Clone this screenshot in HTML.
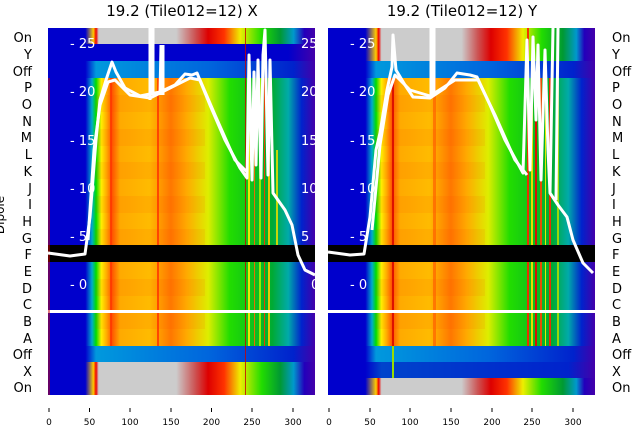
<!DOCTYPE html>
<html><head><meta charset="utf-8"><style>
html,body{margin:0;padding:0;background:#fff;}
svg{display:block;font-family:"DejaVu Sans","Liberation Sans",sans-serif;}
</style></head><body>
<svg width="640" height="440" viewBox="0 0 640 440" xmlns="http://www.w3.org/2000/svg">
<defs>
<linearGradient id="hL" x1="48" x2="315" gradientUnits="userSpaceOnUse">
<stop offset="0" stop-color="#0000cc"/><stop offset="0.14" stop-color="#0000cc"/>
<stop offset="0.165" stop-color="#00aacc"/><stop offset="0.18" stop-color="#00dd00"/>
<stop offset="0.2" stop-color="#ffee00"/><stop offset="0.22" stop-color="#ffaa00"/>
<stop offset="0.24" stop-color="#ff5500"/><stop offset="0.27" stop-color="#ffaa00"/>
<stop offset="0.38" stop-color="#ffbb00"/><stop offset="0.46" stop-color="#ff7700"/>
<stop offset="0.52" stop-color="#ffaa00"/><stop offset="0.6" stop-color="#ddee00"/>
<stop offset="0.68" stop-color="#22dd00"/><stop offset="0.84" stop-color="#00aa33"/>
<stop offset="0.9" stop-color="#00aaaa"/><stop offset="0.95" stop-color="#0022cc"/>
<stop offset="1" stop-color="#4400aa"/></linearGradient>
<linearGradient id="hR" x1="328" x2="595" gradientUnits="userSpaceOnUse">
<stop offset="0" stop-color="#0000cc"/><stop offset="0.14" stop-color="#0000cc"/>
<stop offset="0.165" stop-color="#00aacc"/><stop offset="0.18" stop-color="#00dd00"/>
<stop offset="0.2" stop-color="#ffee00"/><stop offset="0.22" stop-color="#ffaa00"/>
<stop offset="0.24" stop-color="#ff5500"/><stop offset="0.27" stop-color="#ffaa00"/>
<stop offset="0.38" stop-color="#ffbb00"/><stop offset="0.46" stop-color="#ff7700"/>
<stop offset="0.52" stop-color="#ffaa00"/><stop offset="0.6" stop-color="#ddee00"/>
<stop offset="0.68" stop-color="#22dd00"/><stop offset="0.84" stop-color="#00aa33"/>
<stop offset="0.9" stop-color="#00aaaa"/><stop offset="0.95" stop-color="#0022cc"/>
<stop offset="1" stop-color="#4400aa"/></linearGradient>
<linearGradient id="gL" x1="48" x2="315" gradientUnits="userSpaceOnUse">
<stop offset="0" stop-color="#0000cc"/><stop offset="0.14" stop-color="#0000cc"/>
<stop offset="0.17" stop-color="#ffcc00"/><stop offset="0.18" stop-color="#ee0000"/>
<stop offset="0.19" stop-color="#cccccc"/><stop offset="0.48" stop-color="#cccccc"/>
<stop offset="0.55" stop-color="#cc5555"/><stop offset="0.6" stop-color="#dd0000"/>
<stop offset="0.66" stop-color="#ff3300"/><stop offset="0.72" stop-color="#eeee00"/>
<stop offset="0.8" stop-color="#22dd00"/><stop offset="0.87" stop-color="#009933"/>
<stop offset="0.92" stop-color="#0099cc"/><stop offset="0.96" stop-color="#2200bb"/>
<stop offset="1" stop-color="#4400aa"/></linearGradient>
<linearGradient id="gR" x1="328" x2="595" gradientUnits="userSpaceOnUse">
<stop offset="0" stop-color="#0000cc"/><stop offset="0.14" stop-color="#0000cc"/>
<stop offset="0.18" stop-color="#ffcc00"/><stop offset="0.19" stop-color="#ee0000"/>
<stop offset="0.2" stop-color="#cccccc"/><stop offset="0.5" stop-color="#cccccc"/>
<stop offset="0.56" stop-color="#cc5555"/><stop offset="0.61" stop-color="#dd0000"/>
<stop offset="0.67" stop-color="#ff3300"/><stop offset="0.73" stop-color="#eeee00"/>
<stop offset="0.8" stop-color="#22dd00"/><stop offset="0.88" stop-color="#009933"/>
<stop offset="0.93" stop-color="#0099cc"/><stop offset="0.96" stop-color="#2200bb"/>
<stop offset="1" stop-color="#4400aa"/></linearGradient>
<linearGradient id="bL" x1="48" x2="315" gradientUnits="userSpaceOnUse">
<stop offset="0" stop-color="#0000cc"/><stop offset="0.14" stop-color="#0000cc"/>
<stop offset="0.18" stop-color="#0099dd"/><stop offset="0.6" stop-color="#0066dd"/>
<stop offset="0.92" stop-color="#0022cc"/><stop offset="1" stop-color="#4400aa"/></linearGradient>
<linearGradient id="bR" x1="328" x2="595" gradientUnits="userSpaceOnUse">
<stop offset="0" stop-color="#0000cc"/><stop offset="0.14" stop-color="#0000cc"/>
<stop offset="0.18" stop-color="#0099dd"/><stop offset="0.6" stop-color="#0066dd"/>
<stop offset="0.92" stop-color="#0022cc"/><stop offset="1" stop-color="#4400aa"/></linearGradient>
<linearGradient id="dL" x1="48" x2="315" gradientUnits="userSpaceOnUse">
<stop offset="0" stop-color="#0000cc"/><stop offset="0.9" stop-color="#0000cc"/><stop offset="1" stop-color="#4400aa"/></linearGradient>
<linearGradient id="dR" x1="328" x2="595" gradientUnits="userSpaceOnUse">
<stop offset="0" stop-color="#0000cc"/><stop offset="0.14" stop-color="#0000cc"/><stop offset="0.2" stop-color="#0044cc"/><stop offset="0.9" stop-color="#0022cc"/><stop offset="1" stop-color="#4400aa"/></linearGradient>
</defs>

<text x="182" y="16" font-size="15" text-anchor="middle" fill="#000">19.2 (Tile012=12) X</text>
<text x="462" y="16" font-size="15" text-anchor="middle" fill="#000">19.2 (Tile012=12) Y</text>

<!-- LEFT PANEL -->
<rect x="48" y="78" width="267" height="268" fill="url(#hL)"/>
<rect x="48" y="28" width="267" height="16" fill="url(#gL)"/>
<rect x="48" y="44" width="267" height="17" fill="url(#dL)"/>
<rect x="48" y="61" width="267" height="17" fill="url(#bL)"/>
<rect x="48" y="346" width="267" height="16" fill="url(#bL)"/>
<rect x="48" y="362" width="267" height="33" fill="url(#gL)"/>
<g fill="#ff3300" opacity="0.08">
<rect x="95" y="95" width="110" height="17"/><rect x="95" y="129" width="110" height="17"/>
<rect x="95" y="162" width="110" height="17"/><rect x="95" y="196" width="110" height="17"/>
<rect x="95" y="229" width="110" height="16"/><rect x="95" y="279" width="110" height="17"/>
<rect x="95" y="313" width="110" height="16"/>
</g>
<g fill="#ff3300" opacity="0.8">
<rect x="157" y="78" width="2" height="268"/><rect x="110" y="78" width="2" height="268"/>
<rect x="245" y="28" width="1" height="367" fill="#cc0000"/>
</g>
<g opacity="0.9">
<rect x="248" y="78" width="2" height="268" fill="#ffee00"/>
<rect x="254" y="78" width="1" height="268" fill="#ff6600"/>
<rect x="259" y="78" width="2" height="268" fill="#aaee00"/>
<rect x="264" y="78" width="1" height="268" fill="#ff3300"/>
<rect x="268" y="78" width="2" height="268" fill="#ffcc00"/>
<rect x="276" y="150" width="2" height="100" fill="#dddd00"/>
</g>
<rect x="48" y="245" width="267" height="17" fill="#000"/>
<rect x="48" y="310" width="267" height="3" fill="#fff"/>
<rect x="48" y="78" width="2" height="317" fill="#cc0000" opacity="0.5"/>

<!-- RIGHT PANEL -->
<rect x="328" y="78" width="267" height="268" fill="url(#hR)"/>
<rect x="328" y="28" width="267" height="33" fill="url(#gR)"/>
<rect x="328" y="61" width="267" height="17" fill="url(#bR)"/>
<rect x="328" y="346" width="267" height="16" fill="url(#bR)"/>
<rect x="328" y="362" width="267" height="16" fill="url(#dR)"/>
<rect x="328" y="378" width="267" height="17" fill="url(#gR)"/>
<g fill="#ff3300" opacity="0.08">
<rect x="375" y="95" width="110" height="17"/><rect x="375" y="129" width="110" height="17"/>
<rect x="375" y="162" width="110" height="17"/><rect x="375" y="196" width="110" height="17"/>
<rect x="375" y="229" width="110" height="16"/><rect x="375" y="279" width="110" height="17"/>
<rect x="375" y="313" width="110" height="16"/>
</g>
<rect x="392" y="78" width="2" height="268" fill="#dd1100"/>
<rect x="392" y="346" width="2" height="32" fill="#99dd00"/>
<rect x="433" y="78" width="3" height="268" fill="#ff5500" opacity="0.6"/>
<g opacity="0.9">
<rect x="527" y="28" width="2" height="318" fill="#ff2200"/>
<rect x="531" y="78" width="2" height="268" fill="#ffdd00"/>
<rect x="535" y="78" width="2" height="268" fill="#ee0000"/>
<rect x="540" y="78" width="2" height="268" fill="#ff4400"/>
<rect x="545" y="78" width="1" height="268" fill="#ffee00"/>
<rect x="549" y="78" width="2" height="268" fill="#ff2200"/>
<rect x="557" y="78" width="2" height="268" fill="#aadd00"/>
</g>
<rect x="328" y="245" width="267" height="17" fill="#000"/>
<rect x="328" y="310" width="267" height="3" fill="#fff"/>

<!-- white curves -->
<g fill="none" stroke="#fff" stroke-width="3" stroke-linejoin="round">
<path d="M48,253 L70,256 L85,254 L90,217 L96,140 L100,100 L106,80 L112,62 L116,72 L125,88 L140,96 L160,92 L175,85 L185,74 L192,75 L197,73 L210,105 L225,140 L240,168 L247,178 L249,55 L252,180 L254,72 L256,165 L258,60 L261,178 L263,55 L265,30 L268,175 L270,60 L273,193 L285,210 L292,225 L298,255 L305,270 L315,275"/>
<path d="M88,240 L94,150 L100,105 L108,82 L115,80 L130,95 L150,98 L170,88 L190,78 L200,80 L215,115 L235,160 L247,172"/>
<path d="M150,100 L150,28 M153,95 L153,28 M160,95 L161,45 M163,95 L163,45"/>
<path d="M328,252 L350,255 L364,254 L370,217 L376,150 L380,133 L387,90 L392,67 L393,35 L396,70 L405,85 L413,97 L430,98 L445,88 L457,73 L470,75 L477,77 L490,105 L505,140 L523,173 L527,40 L530,170 L533,37 L536,120 L538,45 L541,180 L545,50 L548,150 L550,193 L558,205 L567,217 L573,240 L583,263 L593,273"/>
<path d="M372,230 L380,145 L388,95 L395,75 L410,90 L430,96 L455,80 L478,80 L495,115 L515,160 L527,175"/>
<path d="M431,95 L431,28 M434,95 L434,28"/>
<path d="M550,193 L553,28 M556,200 L558,28"/>
</g>

<!-- y tick labels (white) -->
<g fill="#fff" font-size="13">
<text x="70" y="48">- 25</text><text x="70" y="96">- 20</text><text x="70" y="145">- 15</text>
<text x="70" y="193">- 10</text><text x="70" y="241">- 5</text><text x="70" y="289">- 0</text>
<text x="301" y="48">25</text><text x="301" y="96">20</text><text x="301" y="145">15</text>
<text x="301" y="193">10</text><text x="301" y="241">5</text><text x="311" y="289">0</text>
<text x="350" y="48">- 25</text><text x="350" y="96">- 20</text><text x="350" y="145">- 15</text>
<text x="350" y="193">- 10</text><text x="350" y="241">- 5</text><text x="350" y="289">- 0</text>
</g>

<!-- row labels -->
<g font-size="13" fill="#000">
<g text-anchor="end">
<text x="32" y="42">On</text><text x="32" y="59">Y</text><text x="32" y="76">Off</text>
<text x="32" y="92">P</text><text x="32" y="109">O</text><text x="32" y="126">N</text>
<text x="32" y="142">M</text><text x="32" y="159">L</text><text x="32" y="176">K</text>
<text x="32" y="193">J</text><text x="32" y="209">I</text><text x="32" y="226">H</text>
<text x="32" y="243">G</text><text x="32" y="259">F</text><text x="32" y="276">E</text>
<text x="32" y="293">D</text><text x="32" y="309">C</text><text x="32" y="326">B</text>
<text x="32" y="343">A</text><text x="32" y="359">Off</text><text x="32" y="376">X</text>
<text x="32" y="392">On</text>
</g>
<g>
<text x="612" y="42">On</text><text x="612" y="59">Y</text><text x="612" y="76">Off</text>
<text x="612" y="92">P</text><text x="612" y="109">O</text><text x="612" y="126">N</text>
<text x="612" y="142">M</text><text x="612" y="159">L</text><text x="612" y="176">K</text>
<text x="612" y="193">J</text><text x="612" y="209">I</text><text x="612" y="226">H</text>
<text x="612" y="243">G</text><text x="612" y="259">F</text><text x="612" y="276">E</text>
<text x="612" y="293">D</text><text x="612" y="309">C</text><text x="612" y="326">B</text>
<text x="612" y="343">A</text><text x="612" y="359">Off</text><text x="612" y="376">X</text>
<text x="612" y="392">On</text>
</g>
<text transform="translate(4,215) rotate(-90)" text-anchor="middle" font-size="12">Dipole</text>
</g>

<!-- x ticks -->
<g stroke="#000" stroke-width="1">
<path d="M49,408v4M89.5,408v4M130,408v4M171,408v4M211.5,408v4M252,408v4M293,408v4"/>
<path d="M329,408v4M370,408v4M410,408v4M451,408v4M492,408v4M532,408v4M573,408v4"/>
</g>
<g font-size="9" text-anchor="middle" fill="#000">
<text x="49" y="425">0</text><text x="89.5" y="425">50</text><text x="130" y="425">100</text>
<text x="171" y="425">150</text><text x="211.5" y="425">200</text><text x="252" y="425">250</text><text x="293" y="425">300</text>
<text x="329" y="425">0</text><text x="370" y="425">50</text><text x="410" y="425">100</text>
<text x="451" y="425">150</text><text x="492" y="425">200</text><text x="532" y="425">250</text><text x="573" y="425">300</text>
</g>
</svg>
</body></html>
